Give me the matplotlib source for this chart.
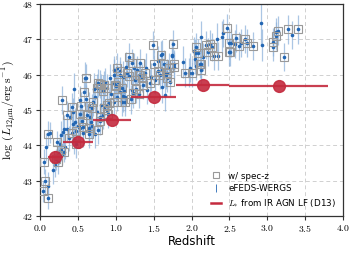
import matplotlib
matplotlib.use("Agg")
import matplotlib.pyplot as plt
from matplotlib.ticker import FuncFormatter, MultipleLocator
import numpy as np

plt.rcParams['mathtext.fontset'] = 'cm'

# eFEDS-WERGS sources: redshift, log L12um, error, has spec-z
z = [0.04, 0.07, 0.10, 0.11, 0.05, 0.08, 0.11, 0.13, 0.17, 0.19, 0.21, 0.23, 0.25, 0.27, 0.29, 0.22, 0.24, 0.26, 0.28, 0.30, 0.32, 0.31, 0.29, 0.33,
     0.35, 0.35, 0.40, 0.42, 0.43, 0.42, 0.44, 0.45, 0.46, 0.48, 0.50, 0.52, 0.53, 0.54, 0.51, 0.53, 0.55, 0.38, 0.45, 0.48,
     0.57, 0.57, 0.59, 0.61, 0.64, 0.64, 0.64, 0.67, 0.66, 0.64, 0.68, 0.62, 0.70, 0.73, 0.75, 0.77, 0.79, 0.81, 0.83, 0.75, 0.79, 0.72, 0.77, 0.79, 0.68, 0.60, 0.58, 0.71,
     0.83, 0.88, 0.91, 0.97, 0.99, 1.00, 1.10, 1.08, 1.10, 0.97, 0.97, 0.92, 0.86, 0.88, 0.84, 1.06, 1.03, 1.08, 1.06, 1.01, 0.81, 0.84, 0.88, 0.97, 0.93, 0.90, 1.05, 1.02,
     1.11, 1.12, 1.12, 1.14, 1.17, 1.21, 1.20, 1.21, 1.23, 1.26, 1.28, 1.32, 1.30, 1.32, 1.35, 1.38, 1.41, 1.36, 1.45, 1.25, 1.18, 1.15, 1.24, 1.30, 1.40,
     1.47, 1.49, 1.52, 1.55, 1.58, 1.59, 1.61, 1.61, 1.61, 1.63, 1.64, 1.65, 1.66, 1.67, 1.68, 1.74, 1.76, 1.77, 1.74, 1.77, 1.50, 1.56, 1.70, 1.72,
     1.89, 1.91, 1.97, 1.98, 2.00, 2.05, 2.06, 2.05, 2.08, 2.13, 2.13, 2.11, 2.15, 2.24, 2.19, 2.22, 2.27, 2.30, 2.35, 2.33, 2.40, 2.42, 2.47, 2.49, 2.50, 2.03, 2.06, 2.12,
     2.51, 2.52, 2.57, 2.59, 2.63, 2.65, 2.71, 2.73, 2.81, 2.91, 2.93, 3.08, 3.07, 3.12, 3.14, 3.12, 3.22, 3.27, 3.33, 3.41]
logL = [42.70, 42.98, 42.50, 42.85, 43.54, 43.95, 44.33, 44.36, 43.30, 43.44, 43.60, 43.72, 43.82, 43.86, 43.73, 44.10, 43.54, 44.05, 44.29, 44.39, 44.45, 43.82, 45.28, 43.95,
        44.47, 44.86, 44.80, 44.36, 44.60, 45.09, 44.95, 45.59, 44.67, 44.40, 44.55, 44.88, 45.28, 45.10, 44.53, 44.50, 44.70, 44.20, 44.15, 44.05,
        44.53, 44.35, 45.92, 45.90, 44.48, 44.32, 44.44, 44.67, 44.80, 45.10, 45.05, 44.85, 45.23, 45.38, 45.61, 45.76, 45.74, 45.62, 45.55, 44.95, 44.80, 44.33, 44.43, 44.70, 44.55, 45.30, 45.50, 45.60,
        44.85, 45.14, 45.20, 45.76, 45.70, 45.67, 45.94, 45.23, 45.40, 46.00, 46.13, 45.90, 45.80, 45.61, 45.70, 45.99, 45.80, 45.62, 45.52, 45.38, 45.14, 45.05, 45.00, 45.23, 45.45, 44.90, 46.10, 46.20,
        45.54, 45.22, 45.38, 46.23, 46.51, 46.34, 45.30, 45.57, 45.47, 45.60, 46.13, 46.32, 46.00, 45.98, 45.90, 46.05, 45.57, 45.70, 45.76, 45.85, 45.95, 46.05, 46.20, 45.45, 46.20,
        45.94, 46.84, 45.85, 46.10, 46.00, 46.55, 46.58, 46.13, 45.66, 46.30, 46.04, 45.42, 46.00, 46.04, 45.92, 46.56, 46.87, 46.30, 46.53, 46.23, 46.30, 46.40, 46.20, 45.80,
        46.37, 46.06, 46.06, 46.20, 46.05, 46.43, 46.79, 46.60, 46.62, 47.06, 46.13, 46.30, 46.50, 46.87, 46.85, 46.65, 46.79, 46.53, 46.52, 47.00, 47.07, 47.17, 47.31, 46.65, 46.89, 46.67, 46.25, 46.30,
        46.65, 46.89, 46.86, 47.03, 46.81, 46.89, 47.01, 46.89, 46.81, 47.45, 46.84, 46.93, 46.79, 47.09, 47.25, 47.20, 46.49, 47.28, 47.12, 47.28]
err = [0.3, 0.35, 0.3, 0.4, 0.35, 0.4, 0.35, 0.3, 0.4, 0.35, 0.3, 0.3, 0.35, 0.3, 0.3, 0.3, 0.35, 0.3, 0.4, 0.4, 0.4, 0.3, 0.4, 0.35,
       0.35, 0.4, 0.4, 0.35, 0.4, 0.4, 0.4, 0.45, 0.4, 0.35, 0.4, 0.4, 0.4, 0.4, 0.4, 0.35, 0.4, 0.35, 0.4, 0.4,
       0.4, 0.4, 0.45, 0.4, 0.4, 0.4, 0.35, 0.45, 0.4, 0.4, 0.4, 0.4, 0.4, 0.45, 0.4, 0.4, 0.4, 0.4, 0.45, 0.45, 0.4, 0.4, 0.4, 0.4, 0.4, 0.4, 0.4, 0.45,
       0.4, 0.4, 0.4, 0.45, 0.4, 0.4, 0.45, 0.4, 0.45, 0.45, 0.4, 0.4, 0.4, 0.4, 0.4, 0.4, 0.4, 0.4, 0.4, 0.4, 0.4, 0.4, 0.4, 0.4, 0.4, 0.4, 0.4, 0.4,
       0.4, 0.4, 0.4, 0.4, 0.4, 0.4, 0.4, 0.4, 0.4, 0.4, 0.4, 0.4, 0.4, 0.4, 0.4, 0.4, 0.4, 0.4, 0.4, 0.4, 0.4, 0.4, 0.4, 0.4, 0.4,
       0.4, 0.4, 0.4, 0.4, 0.4, 0.4, 0.4, 0.4, 0.45, 0.4, 0.4, 0.45, 0.4, 0.4, 0.4, 0.4, 0.4, 0.4, 0.4, 0.4, 0.4, 0.4, 0.4, 0.4,
       0.45, 0.4, 0.4, 0.4, 0.4, 0.4, 0.4, 0.4, 0.4, 0.45, 0.4, 0.4, 0.4, 0.4, 0.4, 0.4, 0.4, 0.4, 0.4, 0.45, 0.45, 0.4, 0.4, 0.4, 0.4, 0.4, 0.4, 0.4,
       0.4, 0.4, 0.4, 0.4, 0.4, 0.4, 0.4, 0.4, 0.4, 0.6, 0.45, 0.4, 0.4, 0.4, 0.4, 0.4, 0.4, 0.4, 0.4, 0.4]
specz = [1, 1, 1, 0, 1, 0, 1, 0, 0, 0, 1, 1, 0, 1, 0, 1, 1, 0, 0, 0, 0, 1, 1, 0,
         0, 1, 0, 1, 0, 1, 0, 0, 0, 1, 0, 1, 0, 1, 0, 0, 1, 1, 0, 1,
         1, 0, 0, 1, 1, 1, 0, 0, 0, 1, 1, 1, 1, 0, 1, 1, 1, 1, 1, 0, 1, 0, 1, 1, 0, 0, 1, 0,
         0, 1, 1, 0, 1, 1, 0, 1, 0, 0, 0, 0, 0, 1, 1, 0, 1, 1, 0, 1, 0, 1, 1, 1, 0, 1, 1, 1,
         0, 1, 0, 0, 1, 1, 1, 0, 1, 1, 0, 1, 1, 1, 1, 1, 0, 1, 1, 1, 1, 1, 0, 1, 0,
         0, 1, 1, 1, 1, 1, 0, 0, 0, 1, 0, 0, 0, 1, 1, 0, 1, 1, 0, 1, 1, 0, 1, 1,
         0, 1, 0, 0, 1, 0, 1, 0, 1, 0, 1, 1, 0, 1, 1, 1, 1, 1, 1, 0, 0, 0, 1, 1, 1, 0, 0, 1,
         1, 0, 0, 1, 1, 0, 1, 1, 1, 0, 0, 1, 1, 1, 1, 0, 1, 1, 0, 1]

# L* from IR AGN LF (D13)
lf_z = [0.2, 0.5, 0.95, 1.5, 2.15, 3.15]
lf_zlo = [0.1, 0.3, 0.7, 1.2, 1.8, 2.5]
lf_zhi = [0.3, 0.7, 1.2, 1.8, 2.5, 3.8]
lf_L = [43.67, 44.09, 44.72, 45.37, 45.72, 45.67]

z = np.array(z); logL = np.array(logL); err = np.array(err); specz = np.array(specz, bool)

fig = plt.figure(figsize=(3.49, 2.54), dpi=100)
ax = fig.add_axes([0.115, 0.15, 0.868, 0.834])

ax.grid(True, ls=(0, (4, 3)), color='#d0d0d0', lw=0.7)
ax.set_axisbelow(True)

ax.errorbar(z, logL, yerr=err, fmt='none', ecolor='#8fb3db', elinewidth=0.9, alpha=0.75, zorder=2)
ax.plot(z, logL, 'o', color='#2266b3', ms=2.6, mew=0, zorder=3)
ax.plot(z[specz], logL[specz], 's', mfc='none', mec='#999999', ms=5.3, mew=0.8, zorder=3)

lo = np.array(lf_z) - np.array(lf_zlo)
hi = np.array(lf_zhi) - np.array(lf_z)
ax.errorbar(lf_z, lf_L, xerr=[lo, hi], fmt='o', color='#c42a3e', ms=8.5, elinewidth=1.6,
            capsize=0, alpha=0.9, zorder=5)

# legend handles
h1 = ax.plot([], [], 's', mfc='none', mec='#999999', ms=5, mew=0.8)[0]
h2 = ax.plot([], [], '|', color='#2266b3', ms=6, mew=0.6)[0]
h3 = ax.plot([], [], '-', color='#c42a3e', lw=1.8)[0]
leg = ax.legend([h1, h2, h3], ['w/ spec-z', 'eFEDS-WERGS', r'$L_{*}$ from IR AGN LF (D13)'],
                loc='lower right', frameon=False, fontsize=6.3, handlelength=1.2,
                borderaxespad=0.4, labelspacing=0.45)

ax.set_xlim(0, 4)
ax.set_ylim(42, 48)
ax.xaxis.set_major_locator(MultipleLocator(0.5))
ax.yaxis.set_major_locator(MultipleLocator(1))
ax.xaxis.set_major_formatter(FuncFormatter(lambda v, p: f'${v:.1f}$'))
ax.yaxis.set_major_formatter(FuncFormatter(lambda v, p: f'${v:.0f}$'))
ax.tick_params(labelsize=7, length=3, width=0.8, color='#333333', pad=2)
for s in ax.spines.values():
    s.set_linewidth(0.9)
    s.set_color('#333333')

ax.set_xlabel('Redshift', fontsize=8.5, labelpad=1)
ax.set_ylabel(r'$\log\;(L_{12\mu{\rm m}}/{\rm erg\;s^{-1}})$', fontsize=8.5, labelpad=2)

fig.savefig('out.png', dpi=100)
